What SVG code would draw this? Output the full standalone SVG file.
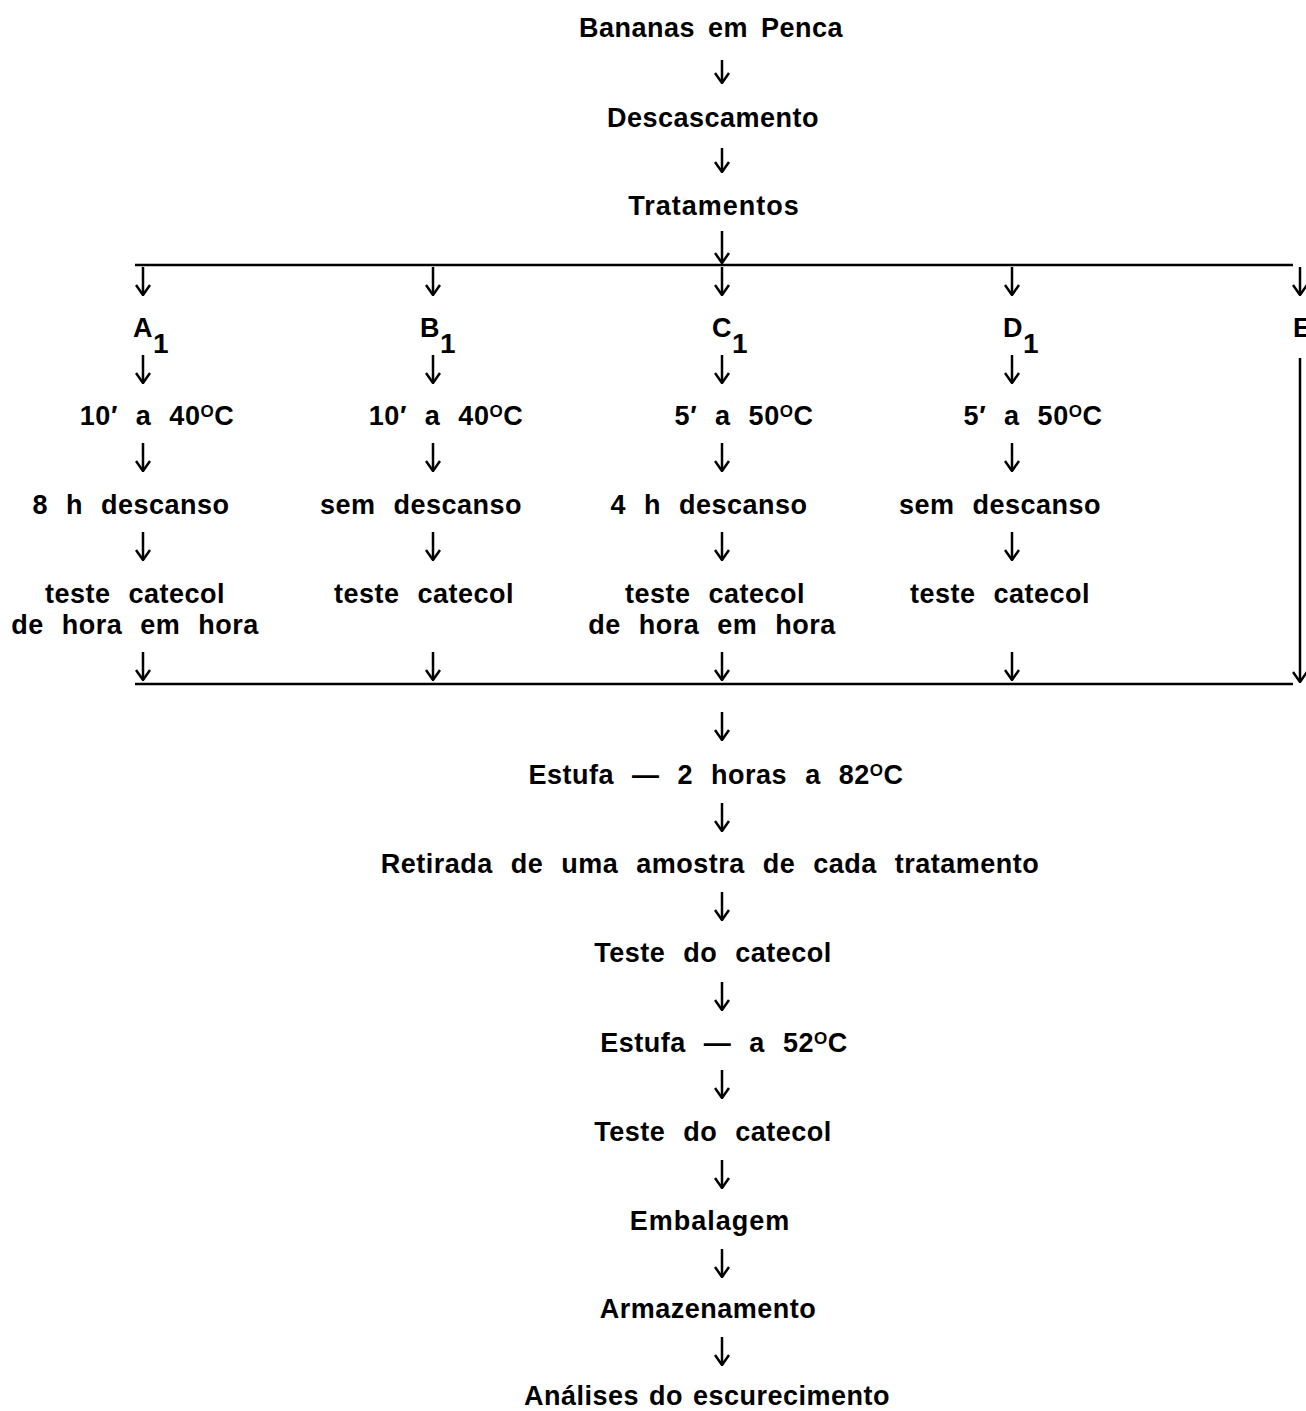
<svg xmlns="http://www.w3.org/2000/svg" width="1306" height="1411" viewBox="0 0 1306 1411">
<style>
text{font-family:"Liberation Sans",Arial,sans-serif;font-weight:bold;font-size:27px;fill:#000;letter-spacing:0.5px;word-spacing:10px}
.c{text-anchor:middle}
.sup{font-size:17px}
.sub{font-size:28px}
.ln{stroke:#000;stroke-width:2.5;fill:none}
.ar{stroke:#000;stroke-width:2.5;fill:none;marker-end:url(#ah)}
</style>
<defs>
<marker id="ah" markerUnits="userSpaceOnUse" viewBox="0 0 12 16" refX="11" refY="8" markerWidth="12" markerHeight="16" orient="auto">
<path d="M1,1 L11,8 L1,15" stroke="#000" stroke-width="2.5" fill="none" stroke-linejoin="miter"/>
</marker>
</defs>
<rect width="1306" height="1411" fill="#fff"/>
<g id="connectors">
<line class="ar" x1="722" y1="60" x2="722" y2="83"/>
<line class="ar" x1="722" y1="148" x2="722" y2="172"/>
<line class="ar" x1="722" y1="231" x2="722" y2="263"/>
<line class="ln" x1="135" y1="265" x2="1293" y2="265"/>
<line class="ar" x1="143" y1="267" x2="143" y2="295"/>
<line class="ar" x1="433" y1="267" x2="433" y2="295"/>
<line class="ar" x1="722" y1="267" x2="722" y2="295"/>
<line class="ar" x1="1012" y1="267" x2="1012" y2="295"/>
<line class="ar" x1="1300" y1="267" x2="1300" y2="295"/>
<line class="ar" x1="143" y1="355" x2="143" y2="383"/>
<line class="ar" x1="433" y1="355" x2="433" y2="383"/>
<line class="ar" x1="722" y1="355" x2="722" y2="383"/>
<line class="ar" x1="1012" y1="355" x2="1012" y2="383"/>
<line class="ar" x1="143" y1="443" x2="143" y2="471"/>
<line class="ar" x1="433" y1="443" x2="433" y2="471"/>
<line class="ar" x1="722" y1="443" x2="722" y2="471"/>
<line class="ar" x1="1012" y1="443" x2="1012" y2="471"/>
<line class="ar" x1="143" y1="532" x2="143" y2="560"/>
<line class="ar" x1="433" y1="532" x2="433" y2="560"/>
<line class="ar" x1="722" y1="532" x2="722" y2="560"/>
<line class="ar" x1="1012" y1="532" x2="1012" y2="560"/>
<line class="ar" x1="143" y1="652" x2="143" y2="680"/>
<line class="ar" x1="433" y1="652" x2="433" y2="680"/>
<line class="ar" x1="722" y1="652" x2="722" y2="680"/>
<line class="ar" x1="1012" y1="652" x2="1012" y2="680"/>
<line class="ar" x1="1300" y1="358" x2="1300" y2="682"/>
<line class="ln" x1="135" y1="684" x2="1293" y2="684"/>
<line class="ar" x1="722" y1="712" x2="722" y2="740"/>
<line class="ar" x1="722" y1="803" x2="722" y2="831"/>
<line class="ar" x1="722" y1="892" x2="722" y2="920"/>
<line class="ar" x1="722" y1="982" x2="722" y2="1010"/>
<line class="ar" x1="722" y1="1070" x2="722" y2="1098"/>
<line class="ar" x1="722" y1="1160" x2="722" y2="1188"/>
<line class="ar" x1="722" y1="1249" x2="722" y2="1277"/>
<line class="ar" x1="722" y1="1337" x2="722" y2="1365"/>
</g>
<g id="n-bananas"><text class="c" x="711" y="37" style="word-spacing:5px">Bananas em Penca</text></g>
<g id="n-descascamento"><text class="c" x="713" y="127">Descascamento</text></g>
<g id="n-tratamentos"><text class="c" x="714" y="215" style="letter-spacing:1px">Tratamentos</text></g>
<g id="n-a1"><text x="133" y="337">A<tspan class="sub" dy="16">1</tspan></text></g>
<g id="n-b1"><text x="420" y="337">B<tspan class="sub" dy="16">1</tspan></text></g>
<g id="n-c1"><text x="712" y="337">C<tspan class="sub" dy="16">1</tspan></text></g>
<g id="n-d1"><text x="1003" y="337">D<tspan class="sub" dy="16">1</tspan></text></g>
<g id="n-e"><text x="1293" y="337">E</text></g>
<g id="n-a2"><text class="c" x="157" y="425">10′ a 40<tspan class="sup" dy="-8">O</tspan><tspan dy="8">C</tspan></text></g>
<g id="n-b2"><text class="c" x="446" y="425">10′ a 40<tspan class="sup" dy="-8">O</tspan><tspan dy="8">C</tspan></text></g>
<g id="n-c2"><text class="c" x="744" y="425">5′ a 50<tspan class="sup" dy="-8">O</tspan><tspan dy="8">C</tspan></text></g>
<g id="n-d2"><text class="c" x="1033" y="425">5′ a 50<tspan class="sup" dy="-8">O</tspan><tspan dy="8">C</tspan></text></g>
<g id="n-a3"><text class="c" x="131" y="514">8 h descanso</text></g>
<g id="n-b3"><text class="c" x="421" y="514">sem descanso</text></g>
<g id="n-c3"><text class="c" x="709" y="514">4 h descanso</text></g>
<g id="n-d3"><text class="c" x="1000" y="514">sem descanso</text></g>
<g id="n-a4"><text class="c" x="135" y="603">teste catecol</text><text class="c" x="135" y="634">de hora em hora</text></g>
<g id="n-b4"><text class="c" x="424" y="603">teste catecol</text></g>
<g id="n-c4"><text class="c" x="715" y="603">teste catecol</text><text class="c" x="712" y="634">de hora em hora</text></g>
<g id="n-d4"><text class="c" x="1000" y="603">teste catecol</text></g>
<g id="n-estufa82"><text class="c" x="716" y="784">Estufa — 2 horas a 82<tspan class="sup" dy="-8">O</tspan><tspan dy="8">C</tspan></text></g>
<g id="n-retirada"><text class="c" x="710" y="873">Retirada de uma amostra de cada tratamento</text></g>
<g id="n-teste1"><text class="c" x="713" y="962">Teste do catecol</text></g>
<g id="n-estufa52"><text class="c" x="724" y="1052">Estufa — a 52<tspan class="sup" dy="-8">O</tspan><tspan dy="8">C</tspan></text></g>
<g id="n-teste2"><text class="c" x="713" y="1141">Teste do catecol</text></g>
<g id="n-embalagem"><text class="c" x="710" y="1230" style="letter-spacing:1px">Embalagem</text></g>
<g id="n-armazenamento"><text class="c" x="708" y="1318">Armazenamento</text></g>
<g id="n-analises"><text class="c" x="707" y="1405" style="word-spacing:2px">Análises  do escurecimento</text></g>
</svg>
